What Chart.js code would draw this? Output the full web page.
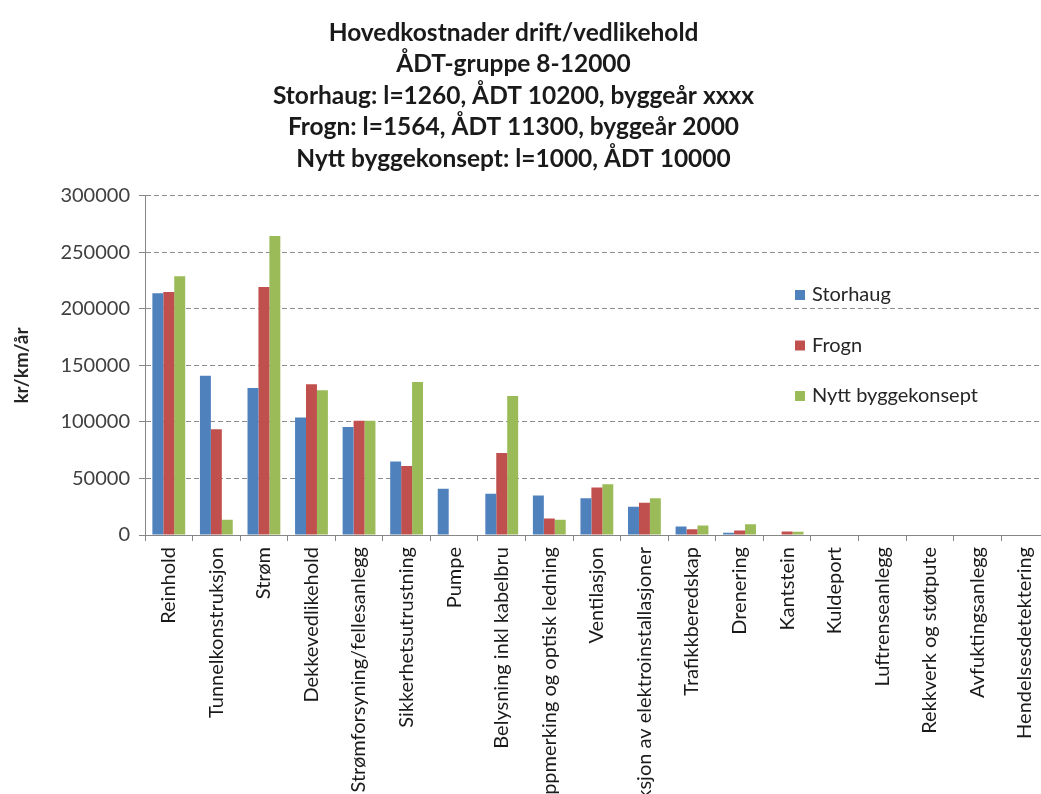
<!DOCTYPE html>
<html><head><meta charset="utf-8">
<script src="https://cdn.jsdelivr.net/npm/chart.js@4/dist/chart.umd.min.js"></script>
<style>html,body{margin:0;padding:0;overflow:hidden;background:#fff}#wrap{width:1041px;height:794px;overflow:hidden;position:relative}</style>
</head><body><div id="wrap"><canvas id="c" width="1055" height="794" style="width:1055px;height:794px"></canvas></div>
<script>
const titleLines = [
  'Hovedkostnader drift/vedlikehold',
  'ÅDT-gruppe 8-12000',
  'Storhaug: l=1260, ÅDT 10200, byggeår xxxx',
  'Frogn: l=1564, ÅDT 11300, byggeår 2000',
  'Nytt byggekonsept: l=1000, ÅDT 10000'
];
const categories = [
  'Reinhold', 'Tunnelkonstruksjon', 'Strøm', 'Dekkevedlikehold',
  'Strømforsyning/fellesanlegg', 'Sikkerhetsutrustning', 'Pumpe',
  'Belysning inkl kabelbru', 'Oppmerking og optisk ledning', 'Ventilasjon',
  'Inspeksjon av elektroinstallasjoner', 'Trafikkberedskap', 'Drenering',
  'Kantstein', 'Kuldeport', 'Luftrenseanlegg', 'Rekkverk og støtpute',
  'Avfuktingsanlegg', 'Hendelsesdetektering'
];
const seriesNames = ['Storhaug', 'Frogn', 'Nytt byggekonsept'];
const storhaug = [214000, 141000, 130000, 104000, 95500, 65000, 41000, 36500, 35000, 32500, 25000, 7500, 2000, 0, 0, 0, 0, 0, 0];
const frogn    = [215000, 93500, 219500, 133500, 101000, 61000, 0, 72500, 14500, 42000, 28500, 5000, 4000, 3000, 0, 0, 0, 0, 0];
const nytt     = [229000, 13500, 264500, 128000, 101000, 135500, 0, 123000, 13500, 45000, 32500, 8500, 9500, 2800, 0, 0, 0, 0, 0];
const yTickLabels = ['0', '50000', '100000', '150000', '200000', '250000', '300000'];
const yAxisTitle = 'kr/km/år';
const seriesColors = ['#4F81BD', '#C0504D', '#9BBB59'];

const FONT = 'Lato';

const inLegend = {
  id: 'inLegend',
  afterDraw(chart) {
    const ctx = chart.ctx;
    ctx.save();
    ctx.font = '20px ' + FONT;
    ctx.textBaseline = 'middle';
    ctx.textAlign = 'left';
    chart.data.datasets.forEach((d, i) => {
      const y = 295 + i * 50.5;
      ctx.fillStyle = d.backgroundColor;
      ctx.fillRect(795, y - 5, 10, 10);
      ctx.fillStyle = '#262626';
      ctx.fillText(d.label, 812, y);
    });
    ctx.restore();
  }
};

new Chart(document.getElementById('c'), {
  type: 'bar',
  data: {
    labels: categories,
    datasets: [
      { label: seriesNames[0], data: storhaug, backgroundColor: seriesColors[0] },
      { label: seriesNames[1], data: frogn, backgroundColor: seriesColors[1] },
      { label: seriesNames[2], data: nytt, backgroundColor: seriesColors[2] }
    ]
  },
  options: {
    responsive: false,
    animation: false,
    devicePixelRatio: 1,
    layout: { padding: { left: -26, right: 2, top: 0, bottom: 0 } },
    datasets: { bar: { categoryPercentage: 0.69, barPercentage: 1.0 } },
    plugins: {
      legend: { display: false },
      tooltip: { enabled: false },
      title: {
        display: true,
        text: titleLines,
        color: '#1a1a1a',
        font: { family: FONT, size: 24.5, weight: 'bold', lineHeight: 1.2857 },
        padding: { top: 17, bottom: 21.5 }
      }
    },
    scales: {
      x: {
        grid: { display: true, drawOnChartArea: false, drawTicks: true, tickLength: 6, color: '#868686', offset: true },
        border: { display: true, color: '#868686' },
        ticks: { autoSkip: false, maxRotation: 90, minRotation: 90, padding: 6, color: '#1a1a1a', font: { family: FONT, size: 20 } },
        afterFit(s) { s.height = 259; }
      },
      y: {
        min: 0, max: 300000,
        ticks: { stepSize: 50000, padding: 9, color: '#404040', font: { family: FONT, size: 20 }, callback: (v, i) => yTickLabels[i] },
        grid: { display: true, drawOnChartArea: true, drawTicks: true, color: '#8c8c8c', lineWidth: 1, tickLength: 6, tickColor: '#868686' },
        border: { display: true, color: '#868686', dash: [5, 3] },
        title: { display: true, text: yAxisTitle, color: '#262626', font: { family: FONT, size: 19, weight: 'bold' }, padding: { top: 36, bottom: 0 } },
        afterFit(s) { s.width = 171; }
      }
    }
  },
  plugins: [inLegend]
});
</script>
</body></html>
